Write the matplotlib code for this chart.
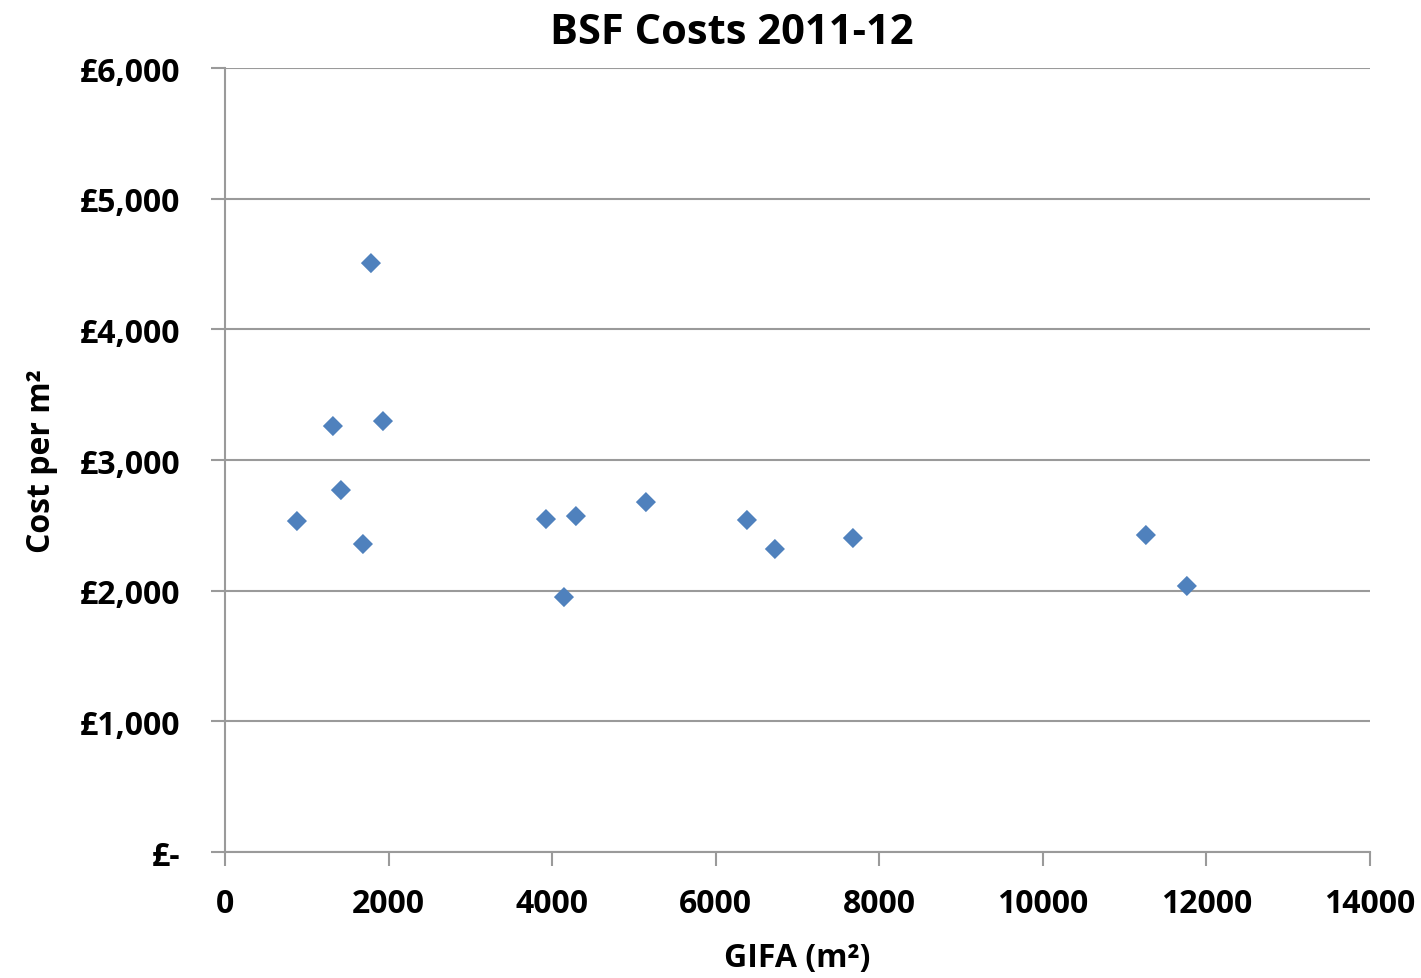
import matplotlib.pyplot as plt
from matplotlib.ticker import FuncFormatter

# GIFA (m2) and cost per m2
gifa = [880, 1320, 1418, 1687, 1785, 1932, 3925, 4145, 4291, 5147, 6382, 6724, 7678, 11260, 11761]
cost = [2533, 3260, 2770, 2357, 4507, 3298, 2548, 1951, 2571, 2678, 2541, 2319, 2403, 2426, 2036]

x_ticks = [0, 2000, 4000, 6000, 8000, 10000, 12000, 14000]
y_ticks = [0, 1000, 2000, 3000, 4000, 5000, 6000]

plt.rcParams['font.family'] = ['Open Sans', 'DejaVu Sans']
plt.rcParams['font.weight'] = 'bold'


def pound_fmt(v, pos):
    if v == 0:
        return '£-'
    return '£{:,.0f}'.format(v)


fig = plt.figure(figsize=(14.21, 9.79), dpi=100)
ax = fig.add_axes([0.1583, 0.1287, 0.8058, 0.8008])

ax.scatter(gifa, cost, marker='D', s=105, color='#4F81BD', edgecolors='none', zorder=3)

ax.set_xlim(0, 14000)
ax.set_ylim(0, 6000)
ax.set_xticks(x_ticks)
ax.set_yticks(y_ticks)
ax.yaxis.set_major_formatter(FuncFormatter(pound_fmt))

ax.grid(axis='y', color='#9a9a9a', linewidth=1.5)
ax.set_axisbelow(True)
for side in ['top', 'right']:
    ax.spines[side].set_visible(False)
for side in ['left', 'bottom']:
    ax.spines[side].set_color('#9a9a9a')
    ax.spines[side].set_linewidth(1.5)

ax.tick_params(axis='both', direction='out', length=10, width=1.5, color='#9a9a9a',
               labelsize=23)
ax.tick_params(axis='y', pad=22)
ax.tick_params(axis='x', pad=15)

fig.text(732 / 1421, 1 - 34 / 979, 'BSF Costs 2011-12', fontsize=30, fontweight='bold',
         ha='center', va='center')
ax.set_xlabel('GIFA (m²)', fontsize=23, fontweight='bold', labelpad=15)
ax.set_ylabel('Cost per m²', fontsize=23, fontweight='bold', labelpad=16)

fig.savefig('out.png', dpi=100)
